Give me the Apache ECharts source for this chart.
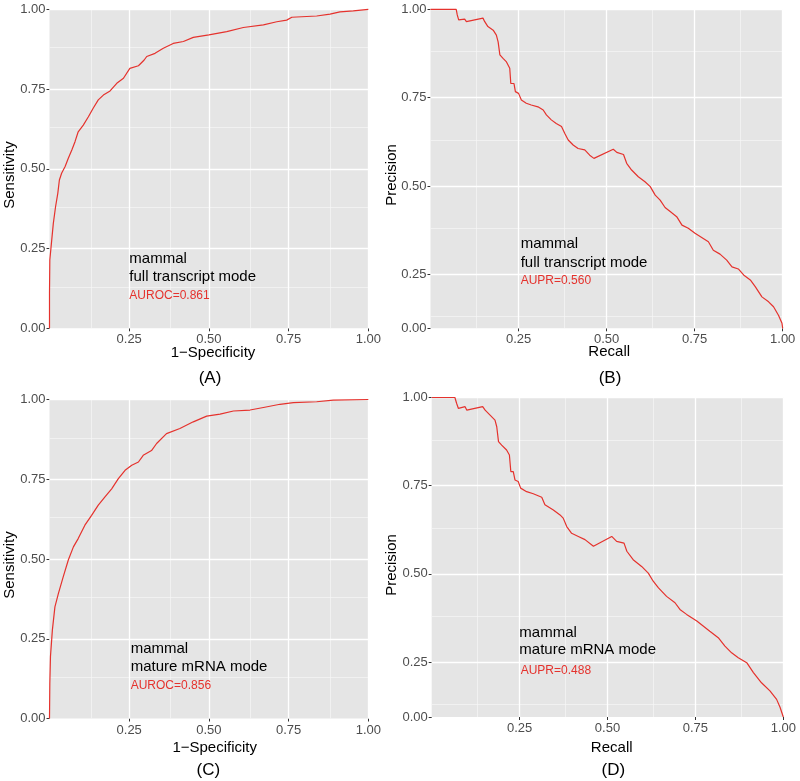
<!DOCTYPE html>
<html><head><meta charset="utf-8">
<script src="https://cdn.jsdelivr.net/npm/echarts@6/dist/echarts.min.js"></script>
<style>html,body{margin:0;padding:0;background:#fff}#c{width:800px;height:781px}</style>
</head><body><div id="c"></div>
<script>
// ---------- data ----------
const rocA_fpr = [0,0,0.001,0.005,0.012,0.019,0.026,0.031,0.038,0.049,0.059,0.07,0.08,0.09,0.106,0.122,0.137,0.153,0.169,0.19,0.211,0.232,0.252,0.279,0.297,0.305,0.331,0.357,0.388,0.42,0.451,0.5,0.556,0.608,0.671,0.713,0.744,0.76,0.838,0.88,0.911,0.953,1];
const rocA_tpr = [0,0.11,0.214,0.256,0.329,0.381,0.423,0.465,0.486,0.507,0.533,0.559,0.585,0.616,0.637,0.663,0.69,0.716,0.731,0.744,0.768,0.784,0.815,0.823,0.841,0.852,0.862,0.878,0.893,0.899,0.912,0.92,0.93,0.943,0.951,0.961,0.966,0.975,0.979,0.985,0.992,0.995,1];

const prB_recall = [0,0.073,0.076,0.08,0.097,0.102,0.149,0.154,0.163,0.178,0.187,0.192,0.197,0.206,0.215,0.225,0.228,0.237,0.241,0.25,0.258,0.272,0.286,0.305,0.32,0.329,0.343,0.357,0.372,0.381,0.391,0.405,0.419,0.438,0.452,0.464,0.519,0.529,0.548,0.557,0.571,0.59,0.609,0.624,0.638,0.652,0.666,0.685,0.699,0.714,0.732,0.751,0.77,0.789,0.803,0.822,0.841,0.856,0.874,0.889,0.908,0.922,0.941,0.96,0.974,0.988,0.998,1];
const prB_precision = [1,1,0.984,0.97,0.972,0.965,0.975,0.965,0.951,0.941,0.927,0.908,0.871,0.861,0.852,0.833,0.79,0.79,0.767,0.762,0.743,0.734,0.729,0.724,0.715,0.701,0.687,0.677,0.668,0.649,0.63,0.616,0.606,0.602,0.587,0.578,0.604,0.595,0.589,0.564,0.545,0.526,0.512,0.498,0.474,0.46,0.439,0.424,0.413,0.389,0.38,0.366,0.354,0.342,0.318,0.307,0.29,0.271,0.265,0.248,0.234,0.215,0.186,0.172,0.158,0.134,0.111,0.097];

const rocC_fpr = [0,0.001,0.003,0.009,0.017,0.028,0.043,0.059,0.075,0.09,0.111,0.132,0.153,0.174,0.195,0.216,0.237,0.258,0.279,0.294,0.32,0.336,0.367,0.409,0.451,0.493,0.535,0.577,0.629,0.671,0.723,0.765,0.838,0.89,1];
const rocC_tpr = [0,0.11,0.194,0.277,0.35,0.392,0.444,0.497,0.538,0.564,0.606,0.637,0.669,0.695,0.72,0.752,0.778,0.794,0.804,0.825,0.84,0.862,0.893,0.909,0.93,0.948,0.954,0.964,0.967,0.975,0.985,0.99,0.993,0.998,1];

const prD_recall = [0,0.066,0.071,0.076,0.095,0.1,0.145,0.152,0.166,0.18,0.185,0.19,0.199,0.213,0.221,0.225,0.232,0.237,0.246,0.253,0.27,0.289,0.313,0.322,0.346,0.365,0.374,0.384,0.398,0.417,0.436,0.46,0.512,0.526,0.547,0.555,0.573,0.597,0.616,0.63,0.645,0.668,0.692,0.706,0.725,0.754,0.791,0.815,0.834,0.853,0.872,0.896,0.915,0.938,0.962,0.981,0.991,1];
const prD_precision = [1,1,0.983,0.969,0.974,0.964,0.974,0.964,0.95,0.936,0.917,0.875,0.865,0.851,0.837,0.79,0.79,0.766,0.762,0.743,0.733,0.727,0.717,0.696,0.681,0.667,0.658,0.634,0.615,0.606,0.597,0.578,0.606,0.592,0.587,0.564,0.54,0.521,0.502,0.479,0.46,0.436,0.418,0.399,0.385,0.366,0.337,0.319,0.295,0.276,0.262,0.248,0.22,0.191,0.168,0.144,0.121,0.094];

const xTickValues = [0.25, 0.5, 0.75, 1.0];
const yTickValues = [0, 0.25, 0.5, 0.75, 1.0];
const majorGrid = [0.25, 0.5, 0.75, 1.0];
const minorGrid = [0.125, 0.375, 0.625, 0.875];
const prB_ymin = 0.097;
const prD_ymin = 0.094;

const annotations = [
  ['mammal', 'full transcript mode', 'AUROC=0.861'],
  ['mammal', 'full transcript mode', 'AUPR=0.560'],
  ['mammal', 'mature mRNA mode', 'AUROC=0.856'],
  ['mammal', 'mature mRNA mode', 'AUPR=0.488']
];
const xTitles = ['1\u2212Specificity', 'Recall', '1\u2212Specificity', 'Recall'];
const yTitles = ['Sensitivity', 'Precision', 'Sensitivity', 'Precision'];
const panelTags = ['(A)', '(B)', '(C)', '(D)'];

// ---------- layout ----------
const FONT = '"Liberation Sans", Arial, Helvetica, sans-serif';
const RED = '#E5322D';
const grids = [
  {left: 49.5, top: 9.3, width: 318.8, height: 319},
  {left: 430.5, top: 9.3, width: 352.2, height: 319},
  {left: 49.5, top: 399.5, width: 318.8, height: 319},
  {left: 431.7, top: 397.5, width: 351.6, height: 319.5}
];
const panels = [
  {x: rocA_fpr, y: rocA_tpr, ymin: 0},
  {x: prB_recall, y: prB_precision, ymin: prB_ymin},
  {x: rocC_fpr, y: rocC_tpr, ymin: 0},
  {x: prD_recall, y: prD_precision, ymin: prD_ymin}
];

const chart = echarts.init(document.getElementById('c'), null, {renderer: 'canvas'});

const gridOpts = [], xAxes = [], yAxes = [], series = [];
panels.forEach((p, i) => {
  gridOpts.push(Object.assign({show: true, backgroundColor: '#E5E5E5', borderWidth: 0}, grids[i]));
  const yVals = [p.ymin].concat(yTickValues.slice(1));
  xAxes.push({
    gridIndex: i, type: 'value', min: 0, max: 1,
    axisLine: {show: false}, splitLine: {show: false},
    axisTick: {show: true, length: 3, lineStyle: {color: '#333', width: 1}, customValues: xTickValues},
    axisLabel: {customValues: xTickValues, formatter: v => v.toFixed(2), color: '#4D4D4D', fontSize: 13, margin: 5, fontFamily: FONT}
  });
  yAxes.push({
    gridIndex: i, type: 'value', min: p.ymin, max: 1,
    axisLine: {show: false}, splitLine: {show: false},
    axisTick: {show: true, length: 3, lineStyle: {color: '#333', width: 1}, customValues: yVals},
    axisLabel: {customValues: yVals, formatter: v => (v < 0.2 ? 0 : v).toFixed(2), color: '#4D4D4D', fontSize: 13, margin: 4, fontFamily: FONT}
  });
  const mk = (vals, key, w, c) => vals.map(v => ({[key]: v, lineStyle: {color: c, width: w, type: 'solid'}}));
  const yMinor = minorGrid.filter(v => v > p.ymin);
  series.push({
    type: 'line', xAxisIndex: i, yAxisIndex: i, data: [], z: 1, silent: true, animation: false,
    markLine: {
      z: 1, silent: true, symbol: 'none', animation: false, label: {show: false},
      data: [].concat(
        mk(minorGrid, 'xAxis', 0.7, '#F7F7F7'),
        mk(yMinor, 'yAxis', 0.7, '#F7F7F7'),
        mk(majorGrid, 'xAxis', 1.3, '#FFFFFF'),
        mk(majorGrid, 'yAxis', 1.3, '#FFFFFF')
      )
    }
  });
  series.push({
    type: 'line', xAxisIndex: i, yAxisIndex: i, z: 10, clip: false,
    data: p.x.map((v, k) => [v, p.y[k]]),
    showSymbol: false, symbol: 'none', animation: false,
    lineStyle: {color: RED, width: 1.2}
  });
});

const T = (text, x, y, size, color, align, rot) => ({
  type: 'text', x: x, y: y, rotation: rot || 0, silent: true, z: 100,
  style: {text: text, fill: color, font: size + 'px ' + FONT, align: align || 'center', verticalAlign: 'middle'}
});

const titlePos = [
  {yt: [9.5, 175], xt: [213, 352.7], tag: [210, 378.3], ann: [129.3, [259.3, 277.3, 296]]},
  {yt: [391.7, 175], xt: [609.2, 351.7], tag: [610, 378.3], ann: [520.7, [244, 262.7, 281]]},
  {yt: [9.5, 565], xt: [214.7, 748.3], tag: [208.3, 770], ann: [130.7, [649.3, 667.3, 686]]},
  {yt: [391.7, 565], xt: [611.7, 748.3], tag: [613.3, 770], ann: [519.3, [632.7, 650, 671]]}
];
const graphics = [];
titlePos.forEach((t, i) => {
  graphics.push(T(yTitles[i], t.yt[0], t.yt[1], 15, '#000', 'center', Math.PI / 2));
  graphics.push(T(xTitles[i], t.xt[0], t.xt[1], 15, '#000', 'center'));
  graphics.push(T(panelTags[i], t.tag[0], t.tag[1], 17, '#000', 'center'));
  graphics.push(T(annotations[i][0], t.ann[0], t.ann[1][0], 15, '#000', 'left'));
  graphics.push(T(annotations[i][1], t.ann[0], t.ann[1][1], 15, '#000', 'left'));
  graphics.push(T(annotations[i][2], t.ann[0] + (i === 3 ? 1.4 : 0), t.ann[1][2], 12, RED, 'left'));
});

chart.setOption({
  animation: false,
  backgroundColor: '#FFFFFF',
  grid: gridOpts,
  xAxis: xAxes,
  yAxis: yAxes,
  series: series,
  graphic: graphics
});
</script>
</body></html>
